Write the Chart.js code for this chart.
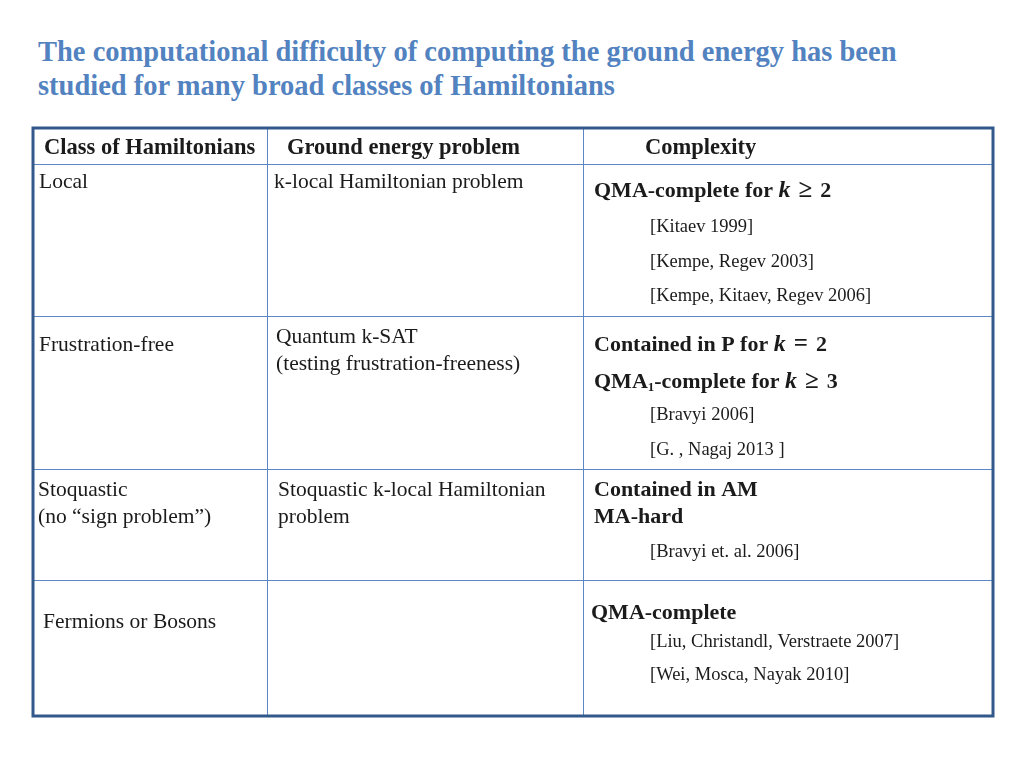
<!DOCTYPE html>
<html>
<head>
<meta charset="utf-8">
<script src="https://cdn.jsdelivr.net/npm/chart.js@4.4.1/dist/chart.umd.min.js"></script>
<style>
  html, body { margin: 0; padding: 0; background: #fff; }
  #wrap { position: relative; width: 1024px; height: 768px; }
  #title {
    position: absolute; left: 38px; top: 35px; margin: 0;
    font: bold 28.5px "Liberation Serif", serif; line-height: 34px;
    color: #5282c0; white-space: nowrap;
  }
  canvas { position: absolute; left: 0; top: 0; }
</style>
</head>
<body>
<div id="wrap">
  <h1 id="title">The computational difficulty of computing the ground energy has been<br>studied for many broad classes of Hamiltonians</h1>
  <canvas id="table-chart" width="1024" height="768"></canvas>
</div>
<script>
// --- Datos de la tabla ---
const columnHeaders = ['Class of Hamiltonians', 'Ground energy problem', 'Complexity'];
const hamiltonianClasses = [['Local'], ['Frustration-free'], ['Stoquastic', '(no “sign problem”)'], ['Fermions or Bosons']];
const groundEnergyProblems = [['k-local Hamiltonian problem'], ['Quantum k-SAT', '(testing frustration-freeness)'], ['Stoquastic k-local Hamiltonian', 'problem'], []];
const complexityResults = [
    ['QMA-complete for {k} ≥ 2'],
    ['Contained in P for {k} = 2', 'QMA_1-complete for {k} ≥ 3'],
    ['Contained in AM', 'MA-hard'],
    ['QMA-complete']
];
const references = [
    ['[Kitaev 1999]', '[Kempe, Regev 2003]', '[Kempe, Kitaev, Regev 2006]'],
    ['[Bravyi 2006]', '[G. , Nagaj 2013 ]'],
    ['[Bravyi et. al. 2006]'],
    ['[Liu, Christandl, Verstraete 2007]', '[Wei, Mosca, Nayak 2010]']
];

// --- Geometría (unidades de tabla = px) ---
const colEdges = [0, 234, 550, 960];
const rowEdges = [0, 36, 188, 341, 452, 588];
const headerOffsets = [[11, 20], [20, 20], [62, 20]];
const rowLayout = [
    { cls: [6, 18], prob: [7, 18], cx: 11, main: [27], refs: [63, 98, 132] },
    { cls: [6, 29], prob: [9, 21], cx: 11, main: [29, 66], refs: [99, 134] },
    { cls: [5, 21], prob: [11, 21], cx: 11, main: [21, 48], refs: [83] },
    { cls: [10, 42], prob: [11, 21], cx: 8, main: [33], refs: [62, 95] }
];
const LINE_GAP = 27;
const REF_DX = 67;

const SERIF = '"Liberation Serif", serif';
const TEXT_COLOR = '#1b1b1b';
const GRID_COLOR = '#5b87c5';
const BORDER_COLOR = '#33598c';

/**
 * Dibuja una línea con marcas: {k} en cursiva negrita, _1 como subíndice.
 */
function drawRich(ctx, str, x, y, size) {
    const parts = str.split(/(\{k\}|_1| [≥=] )/).filter(p => p !== '');
    let cx = x;
    parts.forEach(p => {
        if (p === '{k}') {
            ctx.font = `italic bold ${size + 2}px ${SERIF}`;
            ctx.fillText('k', cx, y);
            cx += ctx.measureText('k').width;
        } else if (p === '_1') {
            ctx.font = `bold ${Math.round(size * 0.6)}px ${SERIF}`;
            ctx.fillText('1', cx, y + 6);
            cx += ctx.measureText('1').width;
        } else if (p.trim() === '≥' || p.trim() === '=') {
            // operador matemático con más espacio
            ctx.font = `bold ${size + 3}px ${SERIF}`;
            cx += 8;
            ctx.fillText(p.trim(), cx, y);
            cx += ctx.measureText(p.trim()).width + 8;
            ctx.font = `bold ${size + 3}px ${SERIF}`;
        } else {
            ctx.font = `bold ${size}px ${SERIF}`;
            ctx.fillText(p, cx, y);
            cx += ctx.measureText(p).width;
        }
    });
}

const tableTextPlugin = {
    id: 'tableText',
    afterDraw(chart) {
        const { ctx, chartArea, scales: { x, y } } = chart;
        ctx.save();
        ctx.fillStyle = TEXT_COLOR;
        ctx.textBaseline = 'middle';
        ctx.textAlign = 'left';
        const px = (col, dx) => x.getPixelForValue(colEdges[col]) + dx;
        const py = (row, dy) => y.getPixelForValue(rowEdges[row]) + dy;

        // Encabezados
        ctx.font = `bold 22.5px ${SERIF}`;
        columnHeaders.forEach((h, i) => {
            ctx.fillText(h, px(i, headerOffsets[i][0]), py(0, headerOffsets[i][1]));
        });

        rowLayout.forEach((lay, r) => {
            const row = r + 1;
            ctx.font = `21.5px ${SERIF}`;
            hamiltonianClasses[r].forEach((t, i) => {
                ctx.fillText(t, px(0, lay.cls[0]), py(row, lay.cls[1] + i * LINE_GAP));
            });
            groundEnergyProblems[r].forEach((t, i) => {
                ctx.fillText(t, px(1, lay.prob[0]), py(row, lay.prob[1] + i * LINE_GAP));
            });
            complexityResults[r].forEach((t, i) => {
                drawRich(ctx, t, px(2, lay.cx), py(row, lay.main[i]), 22);
            });
            ctx.font = `18.5px ${SERIF}`;
            references[r].forEach((t, i) => {
                ctx.fillText(t, px(2, REF_DX), py(row, lay.refs[i]));
            });
        });

        // Borde exterior grueso
        ctx.strokeStyle = BORDER_COLOR;
        ctx.lineWidth = 3;
        ctx.strokeRect(chartArea.left, chartArea.top, chartArea.right - chartArea.left, chartArea.bottom - chartArea.top);
        ctx.restore();
    }
};

new Chart(document.getElementById('table-chart'), {
    type: 'scatter',
    data: { datasets: [{ data: [], pointRadius: 0 }] },
    options: {
        responsive: false,
        animation: false,
        layout: { padding: { left: 33, top: 128, right: 31, bottom: 52 } },
        plugins: { legend: { display: false }, tooltip: { enabled: false } },
        scales: {
            x: {
                type: 'linear', min: colEdges[0], max: colEdges[colEdges.length - 1],
                afterBuildTicks: s => { s.ticks = colEdges.map(v => ({ value: v })); },
                ticks: { display: false },
                grid: { color: GRID_COLOR, lineWidth: 1, drawTicks: false },
                border: { display: false }
            },
            y: {
                type: 'linear', reverse: true, min: rowEdges[0], max: rowEdges[rowEdges.length - 1],
                afterBuildTicks: s => { s.ticks = rowEdges.map(v => ({ value: v })); },
                ticks: { display: false },
                grid: { color: GRID_COLOR, lineWidth: 1, drawTicks: false },
                border: { display: false }
            }
        }
    },
    plugins: [tableTextPlugin]
});
</script>
</body>
</html>
